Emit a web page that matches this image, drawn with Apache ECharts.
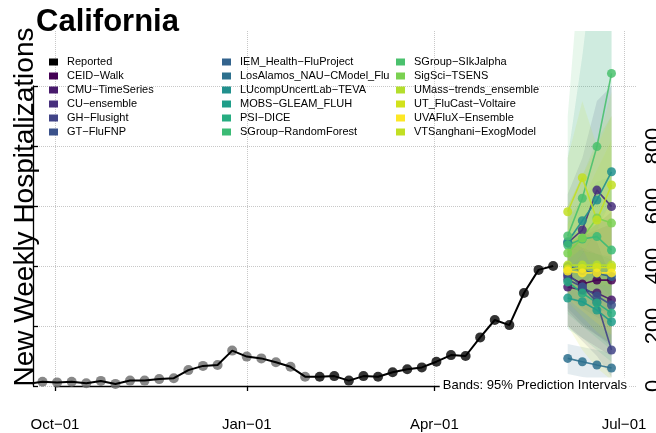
<!DOCTYPE html>
<html><head><meta charset="utf-8">
<script src="https://cdn.jsdelivr.net/npm/echarts@6/dist/echarts.min.js"></script>
<style>html,body{margin:0;padding:0;background:#fff}#c{width:656px;height:433px}</style>
</head><body><div id="c"></div>
<script>
// ---------------- data ----------------
const reportedDates = ['2021-09-18','2021-09-25','2021-10-02','2021-10-09','2021-10-16','2021-10-23','2021-10-30','2021-11-06','2021-11-13','2021-11-20','2021-11-27','2021-12-04','2021-12-11','2021-12-18','2021-12-25','2022-01-01','2022-01-08','2022-01-15','2022-01-22','2022-01-29','2022-02-05','2022-02-12','2022-02-19','2022-02-26','2022-03-05','2022-03-12','2022-03-19','2022-03-26','2022-04-02','2022-04-09','2022-04-16','2022-04-23','2022-04-30','2022-05-07','2022-05-14','2022-05-21','2022-05-28'];
const reportedValues = [7,14,12,14,9,17,7,18,18,23,26,53,67,70,118,98,92,79,64,31,31,33,18,33,31,46,56,62,81,103,100,162,220,203,310,387,400];
const reportedGreyUntil = '2022-01-29';

const forecastDates = ['2022-06-04','2022-06-11','2022-06-18','2022-06-25'];
const modelNames = ['CEID−Walk','CMU−TimeSeries','CU−ensemble','GH−Flusight','GT−FluFNP','IEM_Health−FluProject','LosAlamos_NAU−CModel_Flu','LUcompUncertLab−TEVA','MOBS−GLEAM_FLUH','PSI−DICE','SGroup−RandomForest','SGroup−SIkJalpha','SigSci−TSENS','UMass−trends_ensemble','UT_FluCast−Voltaire','UVAFluX−Ensemble','VTSanghani−ExogModel'];
const modelColors = ['#440154','#481A6C','#472F7D','#414487','#3B528B','#33638D','#2D708E','#21908D','#1F9E89','#27AD81','#3BBB75','#4AC16D','#7AD151','#B4DE2C','#D2E21B','#FDE725','#C2DF23'];
const modelPoints = [
  [367,340,353,353],
  [330,320,310,287],
  [477,520,653,598],
  [355,330,280,120],
  [375,330,300,270],
  [398,385,375,365],
  [92,81,70,60],
  [481,551,620,714],
  [293,281,253,214],
  [347,310,277,243],
  [470,490,498,453],
  [500,626,798,1042],
  [443,493,560,543],
  [403,403,403,403],
  [390,392,395,395],
  [383,377,377,377],
  [581,694,553,670]
];
const modelLower = [
  [250,200,170,140],
  [200,160,130,100],
  [330,340,380,330],
  [200,150,100,30],
  [260,210,170,130],
  [300,260,230,200],
  [40,30,20,15],
  [300,280,260,240],
  [190,160,120,80],
  [240,200,160,120],
  [380,360,340,300],
  [380,440,520,620],
  [320,330,340,330],
  [280,230,180,140],
  [200,120,60,20],
  [290,250,210,170],
  [420,460,360,400]
];
const modelUpper = [
  [480,500,540,580],
  [470,500,520,540],
  [640,760,950,1000],
  [500,520,480,350],
  [490,460,440,420],
  [500,520,540,560],
  [140,130,120,110],
  [760,1100,1500,1900],
  [400,420,420,400],
  [460,450,440,430],
  [560,620,680,700],
  [900,1500,2100,2800],
  [600,700,820,900],
  [540,620,720,820],
  [600,700,800,900],
  [480,520,560,600],
  [760,950,800,980]
];
const xTickDates = ['2021-10-01','2022-01-01','2022-04-01','2022-07-01'];
const xTickLabels = ['Oct−01','Jan−01','Apr−01','Jul−01'];
const yTickValues = [0,200,400,600,800,1000];
const yTickLabels = ['0','200','400','600','800',''];

// ---------------- layout ----------------
const FONT = '"Liberation Sans", Arial, Helvetica, sans-serif';
const t = s => Date.parse(s);
const X_LEFT = 33, X_FIRST = 55, X_LAST = 624, X_RIGHT = 636;
const Y_TOP = 31, Y_1000 = 86, Y_0 = 386, Y_BOT = 400;
const W = 656, H = 433;
const xTickMs = xTickDates.map(t);
const pxPerMs = (X_LAST - X_FIRST) / (xTickMs[3] - xTickMs[0]);
const xMin = xTickMs[0] - (X_FIRST - X_LEFT) / pxPerMs;
const xMax = xTickMs[3] + (X_RIGHT - X_LAST) / pxPerMs;
const pxPerUnit = (Y_0 - Y_1000) / 1000;
const yMin = -(Y_BOT - Y_0) / pxPerUnit;
const yMax = 1000 + (Y_1000 - Y_TOP) / pxPerUnit;

const series = [];
// prediction-interval bands (polygon through the axis scales)
modelNames.forEach((n, i) => {
  series.push({
    name: n + ' band', type: 'custom', xAxisIndex: 0, yAxisIndex: 0, clip: true, silent: true, z: 1,
    data: forecastDates.map((d, k) => [t(d), modelLower[i][k], modelUpper[i][k]]),
    encode: { x: 0, y: [1, 2] },
    renderItem: (params, api) => {
      if (params.dataIndexInside !== 0) return null;
      const cnt = params.dataInsideLength;
      const pts = [];
      for (let k = 0; k < cnt; k++) pts.push(api.coord([api.value(0, k), api.value(2, k)]));
      for (let k = cnt - 1; k >= 0; k--) pts.push(api.coord([api.value(0, k), api.value(1, k)]));
      return { type: 'polygon', shape: { points: pts }, style: { fill: modelColors[i], opacity: 0.13 } };
    }
  });
});
// forecast lines
modelNames.forEach((n, i) => {
  series.push({
    name: n, type: 'line', xAxisIndex: 0, yAxisIndex: 0,
    data: forecastDates.map((d, k) => [t(d), modelPoints[i][k]]),
    symbol: 'circle', symbolSize: 9,
    lineStyle: { color: modelColors[i], width: 1.6, opacity: 0.9 },
    itemStyle: { color: modelColors[i], opacity: 0.85 }, z: 3
  });
});
// reported
series.push({
  name: 'Reported', type: 'scatter', xAxisIndex: 0, yAxisIndex: 0,
  data: reportedDates.map((d, k) => [t(d), reportedValues[k]]),
  symbolSize: 10,
  itemStyle: { color: p => (p.value[0] <= t(reportedGreyUntil) ? '#6a6a6a' : '#000') },
  z: 4
});
series.push({
  name: 'Reported', type: 'line', xAxisIndex: 0, yAxisIndex: 0,
  data: reportedDates.map((d, k) => [t(d), reportedValues[k]]),
  symbol: 'none', lineStyle: { color: '#000', width: 2 }, z: 5
});

const legendBase = {
  orient: 'vertical', top: 50, icon: 'rect', itemWidth: 9, itemHeight: 7, itemGap: 0,
  selectedMode: false,
  textStyle: { fontSize: 11, lineHeight: 14, color: '#000', fontFamily: FONT, padding: [0, 0, 0, 4] }
};
const legItem = n => {
  const i = modelNames.indexOf(n);
  return { name: n, itemStyle: { color: i < 0 ? '#000' : modelColors[i], opacity: 1 } };
};

const option = {
  animation: false,
  textStyle: { fontFamily: FONT },
  grid: [
    { left: X_LEFT, right: W - X_RIGHT, top: Y_TOP, bottom: H - Y_BOT, outerBoundsMode: 'none' },
    { left: X_FIRST, right: W - X_LAST, top: Y_TOP, bottom: H - Y_0, outerBoundsMode: 'none' },
    { left: X_LEFT, right: W - X_RIGHT, top: Y_1000, bottom: H - Y_0, outerBoundsMode: 'none' }
  ],
  xAxis: [
    { type: 'value', gridIndex: 0, min: xMin, max: xMax, show: false },
    { type: 'value', gridIndex: 1, min: xTickMs[0], max: xTickMs[3], offset: Y_BOT - Y_0,
      axisLine: { show: true, lineStyle: { color: '#000', width: 1.3 } },
      axisTick: { show: true, length: 5, lineStyle: { color: '#000', width: 1.3 }, customValues: xTickMs },
      axisLabel: { show: true, customValues: xTickMs, fontSize: 15, color: '#000', margin: 17,
        formatter: v => { const k = xTickMs.indexOf(v); return k < 0 ? '' : xTickLabels[k]; } },
      splitLine: { show: true, lineStyle: { type: 'dotted', color: '#c8c8c8', width: 1 } }
    },
    { type: 'value', gridIndex: 2, show: false, min: 0, max: 1 }
  ],
  yAxis: [
    { type: 'value', gridIndex: 0, min: yMin, max: yMax, show: false },
    { type: 'value', gridIndex: 1, min: 0, max: 1, show: false },
    { type: 'value', gridIndex: 2, position: 'right', min: 0, max: 1000, interval: 200,
      axisLine: { show: true, lineStyle: { color: '#000', width: 1.3 } },
      axisTick: { show: true, length: 5, lineStyle: { color: '#000', width: 1.3 } },
      axisLabel: { show: true, rotate: 90, fontSize: 22, color: '#000', margin: 7,
        formatter: v => { const k = yTickValues.indexOf(v); return k < 0 ? '' : yTickLabels[k]; } },
      splitLine: { show: true, lineStyle: { type: 'dotted', color: '#c8c8c8', width: 1 } }
    }
  ],
  legend: [
    Object.assign({}, legendBase, { left: 44, data: ['Reported'].concat(modelNames.slice(0, 5)).map(legItem) }),
    Object.assign({}, legendBase, { left: 217, data: modelNames.slice(5, 11).map(legItem) }),
    Object.assign({}, legendBase, { left: 391, data: modelNames.slice(11).map(legItem) })
  ],
  graphic: [
    { type: 'text', left: 36, top: 7, z: 100,
      style: { text: 'California', font: 'bold 31px ' + FONT, fill: '#000' } },
    { type: 'text', x: 25, y: 207, rotation: Math.PI / 2, z: 100,
      style: { text: 'New Weekly Hospitalizations', font: '28px ' + FONT, fill: '#000', align: 'center', verticalAlign: 'middle' } },
    { type: 'text', x: 629, y: 385, z: 100,
      style: { text: 'Bands: 95% Prediction Intervals', font: '13px ' + FONT, fill: '#000', align: 'right', verticalAlign: 'middle', backgroundColor: '#fff', padding: [1, 2, 1, 3] } }
  ],
  series: series
};
const chart = echarts.init(document.getElementById('c'), null, { renderer: 'canvas' });
chart.setOption(option);
</script></body></html>
